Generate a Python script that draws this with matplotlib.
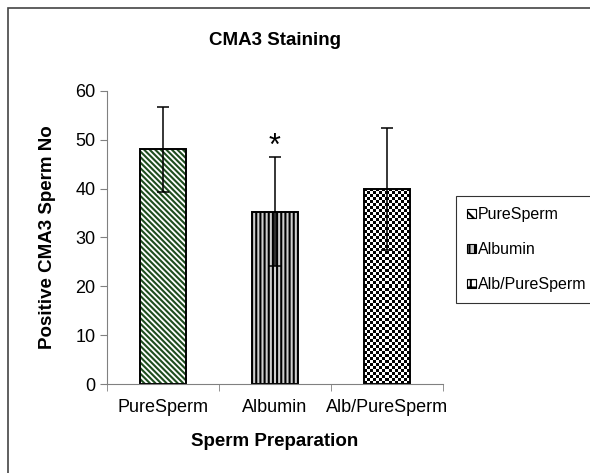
import matplotlib.pyplot as plt
from matplotlib.patches import Rectangle
import numpy as np

plt.rcParams['font.family'] = ['Liberation Sans', 'DejaVu Sans']

groups = ['PureSperm', 'Albumin', 'Alb/PureSperm']
means = [48.0, 35.3, 39.9]
errs = [8.6, 11.2, 12.4]
hatches = ['\\' * 6, '|' * 4, None]
hatch_cols = ['#1e4d1e', 'black', 'black']
faces = ['white', '#cfcfcf', 'white']

fig = plt.figure(figsize=(5.9, 4.73), dpi=100)
ax = fig.add_axes([0.181, 0.188, 0.57, 0.62])

# outer chart frame (only top/left visible in the original)
fig.patches.append(Rectangle((8/590, -0.1), 1.2, 1 - 8/473 + 0.1, transform=fig.transFigure,
                             fill=False, ec='#444444', lw=1.2))

x = list(range(len(groups)))
handles = []
for i in x:
    plt.rcParams['hatch.color'] = hatch_cols[i]
    plt.rcParams['hatch.linewidth'] = 1.5
    b = ax.bar(i, means[i], width=0.41, color=faces[i], hatch=hatches[i], linewidth=0)[0]
    if hatches[i] is None:
        # checkerboard fill, clipped to the bar (about 3 px cells)
        x0, w, h = b.get_x(), b.get_width(), b.get_height()
        ny = int(round(h * 4.88 / 3))
        nx = int(round(w * 112 / 3))
        board = np.indices((ny, nx)).sum(axis=0) % 2
        im = ax.imshow(board, cmap='gray', extent=(x0, x0 + w, 0, h), aspect='auto',
                       interpolation='nearest', zorder=1.5)
        im.set_clip_path(b)
    ax.bar(i, means[i], width=0.41, fill=False, edgecolor='black', linewidth=1.4, zorder=2)
    handles.append(Rectangle((0, 0), 1, 1, facecolor=faces[i], edgecolor='black',
                             hatch=['\\\\\\', '|||', '++'][i], linewidth=0.8))
ax.errorbar(x, means, yerr=errs, fmt='none', ecolor='black', elinewidth=1.1,
            capsize=4, capthick=1.1, zorder=3)

ax.text(1, 48.6, '*', ha='center', va='center', fontsize=22)

ax.set_xlim(-0.5, 2.5)
ax.set_ylim(0, 60)
ax.set_yticks(range(0, 61, 10))
ax.set_xticks(x)
ax.set_xticklabels(groups, fontsize=13)
ax.set_xticks([-0.5, 0.5, 1.5, 2.5], minor=True)
ax.tick_params(axis='x', which='major', length=0, pad=11)
ax.tick_params(axis='x', which='minor', length=5, color='gray', direction='out')
ax.tick_params(axis='y', length=5, color='gray', labelsize=13, pad=3)
for s in ['top', 'right']:
    ax.spines[s].set_visible(False)
for s in ['left', 'bottom']:
    ax.spines[s].set_color('gray')

ax.set_title('CMA3 Staining', fontsize=13.5, fontweight='bold', pad=33)
ax.set_xlabel('Sperm Preparation', fontsize=13.5, fontweight='bold', labelpad=12)
ax.set_ylabel('Positive CMA3 Sperm No', fontsize=13.5, fontweight='bold', labelpad=14)

leg = fig.legend(handles, groups, loc='upper left', bbox_to_anchor=(456/590, 1 - 196/473),
                 frameon=True, fancybox=False, edgecolor='black', fontsize=11.5,
                 handlelength=0.55, handleheight=0.55, handletextpad=0.1, labelspacing=1.25,
                 borderpad=0.7, borderaxespad=0)
leg.get_frame().set_linewidth(0.8)

fig.savefig('out.png', dpi=100)
